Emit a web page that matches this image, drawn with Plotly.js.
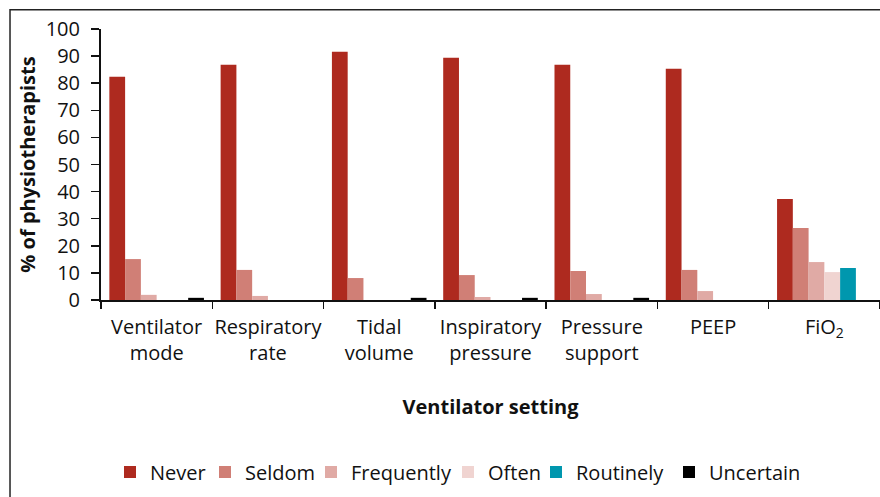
<!DOCTYPE html>
<html>
<head>
<meta charset="utf-8">
<script src="https://cdn.plot.ly/plotly-3.0.1.min.js"></script>
<style>html,body{margin:0;padding:0;background:#fff;}#chart{width:880px;height:497px;}</style>
</head>
<body>
<div id="chart"></div>
<script>
const categories = ["Ventilator<br>mode", "Respiratory<br>rate", "Tidal<br>volume", "Inspiratory<br>pressure", "Pressure<br>support", "PEEP", "FiO<sub>2</sub>"];
const never      = [82.4, 86.8, 91.6, 89.4, 86.8, 85.3, 37.3];
const seldom     = [15.1, 11.1, 8.1, 9.2, 10.7, 11.1, 26.6];
const frequently = [1.9, 1.5, 0, 1.1, 2.2, 3.3, 14.0];
const often      = [0, 0, 0, 0, 0, 0, 10.3];
const routinely  = [0, 0, 0, 0, 0, 0, 11.8];
const uncertain  = [0.8, 0, 0.8, 0.8, 0.8, 0, 0];
const seriesNames = ["Never", "Seldom", "Frequently", "Often", "Routinely", "Uncertain"];
const seriesValues = [never, seldom, frequently, often, routinely, uncertain];
const seriesColors = ["#ae2a1f", "#d07f76", "#e0aaa5", "#f0d4d1", "#0097ae", "#000000"];

const FONT = "'Open Sans', 'Noto Sans', sans-serif";
const PLOT_L = 101, PLOT_W = 779;
// left edge (px) of each legend entry
const legendLeftPx = [110, 205, 311, 448, 536, 669];

const traces = seriesNames.map((n, i) => ({
  type: "bar",
  name: n,
  x: categories,
  y: seriesValues[i],
  marker: {color: seriesColors[i], line: {width: 0}},
  legend: i === 0 ? "legend" : "legend" + (i + 1),
  hoverinfo: "x+y+name"
}));

const layout = {
  width: 880, height: 497,
  margin: {l: PLOT_L, r: 0, t: 29, b: 197},
  paper_bgcolor: "#ffffff",
  plot_bgcolor: "#ffffff",
  font: {family: FONT, size: 20, color: "#111"},
  barmode: "group",
  bargap: 0.15,
  bargroupgap: 0,
  showlegend: true,
  xaxis: {
    type: "category",
    showline: true, linecolor: "#111", linewidth: 2,
    ticks: "outside", ticklen: 7, tickwidth: 1.5, tickcolor: "#111",
    tickson: "boundaries",
    tickangle: 0,
    ticklabelstandoff: 8,
    showgrid: false, zeroline: false,
    tickfont: {family: FONT, size: 20, color: "#111"},
    title: {text: "<b>Ventilator setting</b>", font: {family: FONT, size: 20, color: "#111"}, standoff: 35}
  },
  yaxis: {
    range: [0, 100], dtick: 10, tick0: 0,
    showline: true, linecolor: "#111", linewidth: 2,
    ticks: "outside", ticklen: 8, tickwidth: 1.5, tickcolor: "#111",
    ticklabelstandoff: 7,
    showgrid: false, zeroline: false,
    tickfont: {family: FONT, size: 20, color: "#111"},
    title: {text: "<b>% of physiotherapists</b>", font: {family: FONT, size: 20, color: "#111"}, standoff: 5}
  },
  shapes: [{
    type: "rect", xref: "paper", yref: "paper",
    x0: -0.1168, x1: 1.05, y0: -0.75, y1: 1.0713,
    line: {color: "#222", width: 1.5}, fillcolor: "rgba(0,0,0,0)", layer: "below"
  }]
};

legendLeftPx.forEach((px, i) => {
  const key = i === 0 ? "legend" : "legend" + (i + 1);
  layout[key] = {
    orientation: "h",
    x: (px - PLOT_L) / PLOT_W, xanchor: "left",
    y: -0.635, yanchor: "middle",
    font: {family: FONT, size: 20, color: "#111"},
    itemwidth: 30,
    bgcolor: "rgba(0,0,0,0)"
  };
});

Plotly.newPlot("chart", traces, layout, {displayModeBar: false, staticPlot: true});
</script>
</body>
</html>
